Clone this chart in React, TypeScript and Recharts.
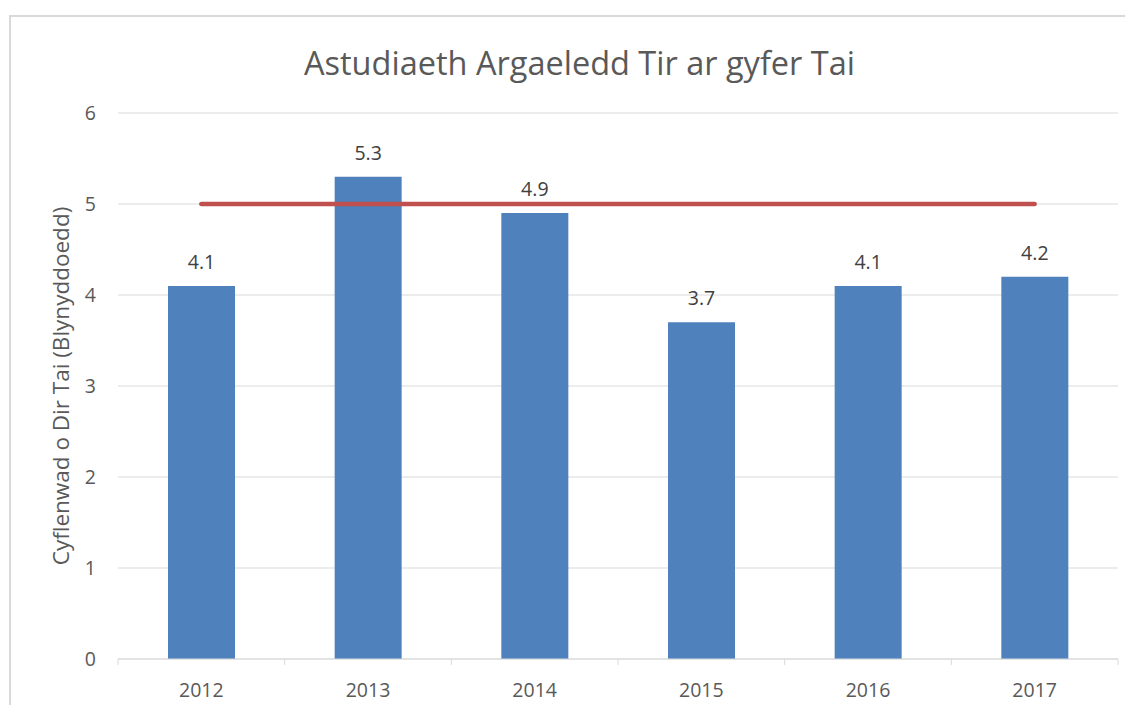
import React from "react";
import { ComposedChart, Bar, Line, XAxis, YAxis, CartesianGrid, LabelList } from "recharts";

const years = ["2012", "2013", "2014", "2015", "2016", "2017"];
const supplyYears = [4.1, 5.3, 4.9, 3.7, 4.1, 4.2];
const targetYears = [5, 5, 5, 5, 5, 5];
const yTicks = [0, 1, 2, 3, 4, 5, 6];

const data = years.map((y, i) => ({ year: y, supply: supplyYears[i], target: targetYears[i] }));

const W = 1133;
const H = 713;
const M = { top: 113, right: 15, bottom: 24, left: 58 };
const Y_AXIS_W = 60;
const PLOT_W = W - M.left - M.right - Y_AXIS_W;
const HALF_BAND = PLOT_W / years.length / 2;
const FONT = "'Open Sans', 'Noto Sans', sans-serif";

const XTick = (props: any) => {
  const { x, y, payload, index } = props;
  const isLast = index === years.length - 1;
  return (
    <g>
      <line x1={x - HALF_BAND} x2={x - HALF_BAND} y1={y - 8} y2={y - 2} stroke="#d9d9d9" strokeWidth={1} />
      {isLast && (
        <line x1={x + HALF_BAND} x2={x + HALF_BAND} y1={y - 8} y2={y - 2} stroke="#d9d9d9" strokeWidth={1} />
      )}
      <text x={x} y={y + 30} textAnchor="middle" fill="#595959" fontSize={19.5} fontFamily={FONT}>
        {payload.value}
      </text>
    </g>
  );
};

export default function App() {
  return (
    <div style={{ position: "relative", margin: -8, width: W, height: H, overflow: "hidden", background: "#fff" }}>
      <div
        style={{
          position: "absolute",
          left: 9,
          top: 15,
          width: 1300,
          height: 900,
          borderLeft: "2px solid #d9d9d9",
          borderTop: "2px solid #d9d9d9",
          boxSizing: "border-box",
        }}
      />
      <div
        style={{
          position: "absolute",
          left: 0,
          width: W,
          top: 62,
          transform: "translateY(-50%)",
          textAlign: "center",
          fontFamily: FONT,
          fontSize: 32.5,
          lineHeight: 1.2,
          color: "#595959",
          paddingLeft: 26,
          boxSizing: "border-box",
        }}
      >
        Astudiaeth Argaeledd Tir ar gyfer Tai
      </div>
      <div
        style={{
          position: "absolute",
          left: 60,
          top: 386,
          transform: "translate(-50%, -50%) rotate(-90deg)",
          whiteSpace: "nowrap",
          fontFamily: FONT,
          fontSize: 22.5,
          lineHeight: 1.2,
          color: "#595959",
        }}
      >
        Cyflenwad o Dir Tai (Blynyddoedd)
      </div>
      <ComposedChart
        width={W}
        height={H}
        data={data}
        margin={M}
        barCategoryGap="30%"
        style={{ position: "absolute", left: 0, top: 0 }}
      >
        <CartesianGrid vertical={false} stroke="#d9d9d9" strokeWidth={1} />
        <XAxis
          dataKey="year"
          axisLine={{ stroke: "#d9d9d9", strokeWidth: 1 }}
          tickLine={false}
          tick={<XTick />}
          height={30}
          interval={0}
        />
        <YAxis
          width={Y_AXIS_W}
          domain={[0, 6]}
          ticks={yTicks}
          axisLine={false}
          tickLine={false}
          tickMargin={16}
          tick={{ fill: "#595959", fontSize: 19.5, fontFamily: FONT }}
        />
        <Bar dataKey="supply" fill="#4F81BD" isAnimationActive={false}>
          <LabelList dataKey="supply" position="top" offset={17} fill="#404040" fontSize={19.5} fontFamily={FONT} />
        </Bar>
        <Line
          dataKey="target"
          stroke="#C0504D"
          strokeWidth={4.5}
          strokeLinecap="round"
          dot={false}
          activeDot={false}
          isAnimationActive={false}
        />
      </ComposedChart>
    </div>
  );
}
